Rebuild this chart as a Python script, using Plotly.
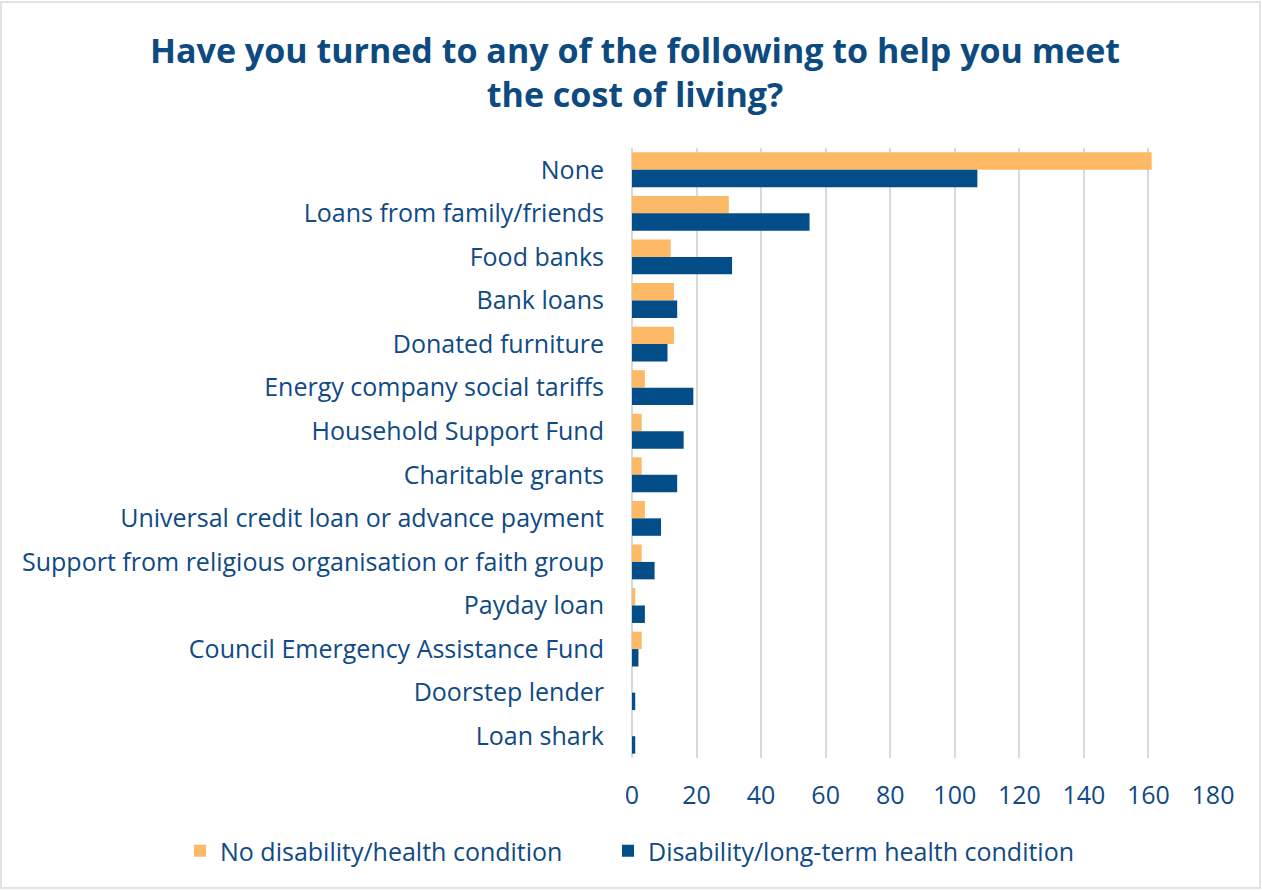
import plotly.graph_objects as go

categories = [
    "None",
    "Loans from family/friends",
    "Food banks",
    "Bank loans",
    "Donated furniture",
    "Energy company social tariffs",
    "Household Support Fund",
    "Charitable grants",
    "Universal credit loan or advance payment",
    "Support from religious organisation or faith group",
    "Payday loan",
    "Council Emergency Assistance Fund",
    "Doorstep lender",
    "Loan shark",
]
no_disability = [161, 30, 12, 13, 13, 4, 3, 3, 4, 3, 1, 3, 0, 0]
disability = [107, 55, 31, 14, 11, 19, 16, 14, 9, 7, 4, 2, 1, 1]
x_ticks = [0, 20, 40, 60, 80, 100, 120, 140, 160, 180]

TEXT = "#0F4A85"
ORANGE = "#FDB966"
BLUE = "#034D89"

fig = go.Figure()
fig.add_trace(go.Bar(
    y=categories, x=no_disability, orientation="h",
    name="No disability/health condition", legend="legend",
    marker=dict(color=ORANGE, line=dict(width=0)),
))
fig.add_trace(go.Bar(
    y=categories, x=disability, orientation="h",
    name="Disability/long-term health condition", legend="legend2",
    marker=dict(color=BLUE, line=dict(width=0)),
))

W, H = 1262, 890
L, R, T, B = 632, 49, 148, 132
pw, ph = W - L - R, H - T - B

legend_style = dict(
    orientation="h", xref="container", yref="container",
    xanchor="left", y=1 - 851 / H, yanchor="middle",
    font=dict(size=25, color=TEXT), itemwidth=30,
    bgcolor="rgba(0,0,0,0)",
)

fig.update_layout(
    width=W, height=H,
    margin=dict(l=L, r=R, t=T, b=B, autoexpand=False),
    paper_bgcolor="white", plot_bgcolor="white",
    font=dict(family="Open Sans", color=TEXT, size=25),
    barmode="group", bargap=0.2, bargroupgap=0,
    xaxis=dict(
        range=[0, 180], tickvals=x_ticks, showgrid=True,
        gridcolor="#D9D9D9", gridwidth=2, zeroline=True,
        zerolinecolor="#D9D9D9", zerolinewidth=2,
        tickfont=dict(size=25, color=TEXT), ticks="outside", ticklen=15,
        tickcolor="rgba(0,0,0,0)", showline=False, fixedrange=True,
    ),
    yaxis=dict(
        autorange="reversed", tickfont=dict(size=25, color=TEXT),
        ticks="outside", ticklen=22, tickcolor="rgba(0,0,0,0)",
        showgrid=False, showline=False,
    ),
    legend=dict(legend_style, x=180 / W),
    legend2=dict(legend_style, x=608 / W),
    showlegend=True,
    annotations=[dict(
        text="<b>Have you turned to any of the following to help you meet<br>the cost of living?</b>",
        xref="paper", yref="paper", x=(635 - L) / pw,
        y=1 + (T - 72) / ph, xanchor="center", yanchor="middle",
        showarrow=False, align="center",
        font=dict(size=34, color="#0D4A80", family="Open Sans"),
    )],
    shapes=[dict(
        type="rect", xref="paper", yref="paper",
        x0=(1 - L) / pw, x1=(W - 2 - L) / pw,
        y0=-(H - 2 - (T + ph)) / ph, y1=1 + (T - 2) / ph,
        line=dict(color="#D9D9D9", width=1.5), fillcolor="rgba(0,0,0,0)",
        layer="below",
    )],
)

fig.write_html("out.html")
